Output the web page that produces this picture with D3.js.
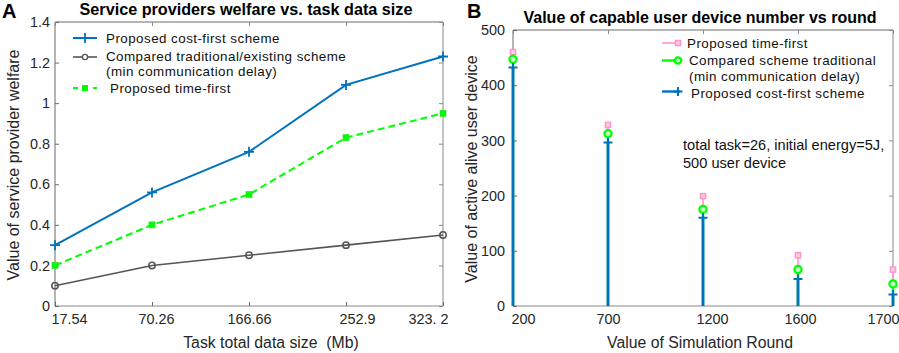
<!DOCTYPE html>
<html><head><meta charset="utf-8">
<script src="https://cdn.jsdelivr.net/npm/d3@7"></script>
<style>body{margin:0;background:#fff} svg{display:block;font-family:"Liberation Sans",Arial,sans-serif}</style>
</head><body><svg id="c" width="899" height="353"></svg>
<script>
// ---------- Panel A data ----------
const dataSizeLabels = ["17.54", "70.26", "166.66", "252.9", "323. 2"];
const costFirstWelfare = [0.30, 0.56, 0.76, 1.09, 1.23];
const traditionalWelfare = [0.10, 0.20, 0.25, 0.30, 0.35];
const timeFirstWelfare = [0.20, 0.40, 0.55, 0.83, 0.95];
const welfareTicks = [0, 0.2, 0.4, 0.6, 0.8, 1, 1.2, 1.4];
// ---------- Panel B data ----------
const roundLabels = ["200", "700", "1200", "1600", "1700"];
const timeFirstDevices = [460, 328, 199, 92, 66];
const traditionalDevices = [447, 312, 175, 66, 40];
const costFirstDevices = [432, 296, 160, 49, 21];
const deviceTicks = [0, 100, 200, 300, 400, 500];

// ---------- style constants ----------
const BLUE = "#0072BD", GRAY = "#555555", GREEN = "#00ff00", PINK = "#ff94c9";
const AXC = "#6a6a6a", AXC2 = "#8a8a8a", TXT = "#262626";
const labelShiftA = [14, 4, 0, 11, -15];
const labelShiftB = [10, 0, 9, 2, -10];
const LEGEND_FS = "13.4px", LEGEND_LS = "0.45px";

const svg = d3.select("#c");

function frame(g, x, y, x0, x1, y0, y1, yTicks, yFmt, shifts, yLabelGap) {
  g.append("line").attr("x1", x0).attr("x2", x1).attr("y1", y0).attr("y2", y0).attr("stroke", AXC2);
  g.append("line").attr("x1", x1).attr("x2", x1).attr("y1", y0).attr("y2", y1).attr("stroke", AXC2);
  g.append("line").attr("x1", x0).attr("x2", x0).attr("y1", y0).attr("y2", y1).attr("stroke", AXC);
  g.append("line").attr("x1", x0).attr("x2", x1).attr("y1", y1).attr("y2", y1).attr("stroke", AXC);
  const ax = g.append("g").attr("transform", `translate(${x0},0)`)
    .call(d3.axisLeft(y).tickValues(yTicks).tickFormat(yFmt).tickSizeInner(-4).tickSizeOuter(0).tickPadding(yLabelGap));
  ax.select(".domain").remove();
  ax.selectAll(".tick line").attr("stroke", AXC);
  ax.selectAll("text").attr("fill", TXT).style("font-size", "14.4px").style("font-family", "'Liberation Sans',Arial,sans-serif");
  const ar = g.append("g").attr("transform", `translate(${x1},0)`)
    .call(d3.axisRight(y).tickValues(yTicks).tickFormat("").tickSizeInner(-4).tickSizeOuter(0));
  ar.select(".domain").remove();
  ar.selectAll(".tick line").attr("stroke", AXC2);
  const ab = g.append("g").attr("transform", `translate(0,${y0})`)
    .call(d3.axisBottom(x).tickSizeInner(-4).tickSizeOuter(0).tickPadding(8));
  ab.select(".domain").remove();
  ab.selectAll(".tick line").attr("stroke", AXC);
  ab.selectAll("text").attr("fill", TXT).style("font-size", "14.4px")
    .style("font-family", "'Liberation Sans',Arial,sans-serif")
    .attr("dx", (d, i) => shifts[i]);
  const at = g.append("g").attr("transform", `translate(0,${y1})`)
    .call(d3.axisTop(x).tickFormat("").tickSizeInner(-4).tickSizeOuter(0));
  at.select(".domain").remove();
  at.selectAll(".tick line").attr("stroke", AXC2);
}

function plusPath(cx, cy, r) { return `M${cx - r},${cy}H${cx + r}M${cx},${cy - r}V${cy + r}`; }

// ================= Panel A =================
{
  const g = svg.append("g");
  const x = d3.scalePoint().domain(dataSizeLabels).range([55, 443]);
  const y = d3.scaleLinear().domain([0, 1.4]).range([306, 22]);
  frame(g, x, y, 55, 443, 306, 22, welfareTicks, d => String(d), labelShiftA, 5);

  const line = d3.line().x((d, i) => x(dataSizeLabels[i])).y(d => y(d));
  g.append("path").attr("d", line(traditionalWelfare)).attr("fill", "none").attr("stroke", GRAY).attr("stroke-width", 1.6);
  g.selectAll(".trad").data(traditionalWelfare).enter().append("circle")
    .attr("cx", (d, i) => x(dataSizeLabels[i])).attr("cy", d => y(d)).attr("r", 3.2)
    .attr("fill", "#fff").attr("fill-opacity", 0).attr("stroke", GRAY).attr("stroke-width", 1.5);
  g.append("path").attr("d", line(timeFirstWelfare)).attr("fill", "none").attr("stroke", GREEN)
    .attr("stroke-width", 2).attr("stroke-dasharray", "7,4");
  g.selectAll(".tf").data(timeFirstWelfare).enter().append("rect")
    .attr("x", (d, i) => x(dataSizeLabels[i]) - 3).attr("y", d => y(d) - 3).attr("width", 6).attr("height", 6)
    .attr("fill", GREEN).attr("stroke", "#22dd22").attr("stroke-width", 0.6);
  g.append("path").attr("d", line(costFirstWelfare)).attr("fill", "none").attr("stroke", BLUE).attr("stroke-width", 2);
  g.selectAll(".cf").data(costFirstWelfare).enter().append("path")
    .attr("d", (d, i) => plusPath(x(dataSizeLabels[i]), y(d), 5)).attr("stroke", BLUE).attr("stroke-width", 1.8);

  const lg = g.append("g").style("font-size", LEGEND_FS).style("letter-spacing", LEGEND_LS).attr("fill", "#111");
  lg.append("line").attr("x1", 73).attr("x2", 97).attr("y1", 38).attr("y2", 38).attr("stroke", BLUE).attr("stroke-width", 2);
  lg.append("path").attr("d", plusPath(85, 38, 5)).attr("stroke", BLUE).attr("stroke-width", 1.8);
  lg.append("text").attr("x", 106).attr("y", 38).attr("dy", "0.35em").text("Proposed cost-first scheme");
  lg.append("line").attr("x1", 73).attr("x2", 97).attr("y1", 57).attr("y2", 57).attr("stroke", GRAY).attr("stroke-width", 1.6);
  lg.append("circle").attr("cx", 85).attr("cy", 57).attr("r", 2.6).attr("fill", "#fff").attr("stroke", GRAY).attr("stroke-width", 1.3);
  lg.append("text").attr("x", 106).attr("y", 56.5).attr("dy", "0.35em").text("Compared traditional/existing scheme");
  lg.append("text").attr("x", 106).attr("y", 71.5).attr("dy", "0.35em").text("(min communication delay)");
  lg.append("line").attr("x1", 73).attr("x2", 97).attr("y1", 88).attr("y2", 88).attr("stroke", GREEN)
    .attr("stroke-width", 2).attr("stroke-dasharray", "5,15");
  lg.append("rect").attr("x", 82).attr("y", 85).attr("width", 6).attr("height", 6).attr("fill", GREEN);
  lg.append("text").attr("x", 110).attr("y", 88).attr("dy", "0.35em").text("Proposed time-first");

  g.append("text").attr("x", 246).attr("y", 14.5).attr("text-anchor", "middle").style("font-size", "16.2px")
    .style("font-weight", "bold").attr("fill", "#000").text("Service providers welfare vs. task data size");
  g.append("text").attr("x", 2).attr("y", 17.5).style("font-size", "20px").style("font-weight", "bold")
    .attr("fill", "#000").text("A");
  g.append("text").attr("x", 271).attr("y", 348).attr("text-anchor", "middle").style("font-size", "15.8px")
    .style("white-space", "pre").attr("fill", TXT).text("Task total data size  (Mb)");
  g.append("text").attr("transform", "translate(19,165) rotate(-90)").attr("text-anchor", "middle")
    .style("font-size", "16px").attr("fill", TXT).text("Value of service provider welfare");
}

// ================= Panel B =================
{
  const g = svg.append("g");
  const x = d3.scalePoint().domain(roundLabels).range([513, 893]);
  const y = d3.scaleLinear().domain([0, 500]).range([306, 30]);
  frame(g, x, y, 513, 893, 306, 30, deviceTicks, d => String(d), labelShiftB, 8);

  const stems = [
    { vals: timeFirstDevices, color: PINK, w: 1.6 },
    { vals: traditionalDevices, color: GREEN, w: 2.4 },
    { vals: costFirstDevices, color: BLUE, w: 2.8 }
  ];
  stems.forEach((s, k) => {
    g.selectAll(".stem" + k).data(s.vals).enter().append("line")
      .attr("x1", (d, i) => x(roundLabels[i])).attr("x2", (d, i) => x(roundLabels[i]))
      .attr("y1", y(0)).attr("y2", d => y(d)).attr("stroke", s.color).attr("stroke-width", s.w);
    const m = g.selectAll(".mk" + k).data(s.vals).enter();
    if (k === 0) {
      m.append("rect").attr("x", (d, i) => x(roundLabels[i]) - 2.6).attr("y", d => y(d) - 2.6)
        .attr("width", 5.2).attr("height", 5.2).attr("fill", "#ffc8e4").attr("stroke", PINK).attr("stroke-width", 1.4);
    } else if (k === 1) {
      m.append("circle").attr("cx", (d, i) => x(roundLabels[i])).attr("cy", d => y(d)).attr("r", 3.6)
        .attr("fill", "#bfffbf").attr("stroke", GREEN).attr("stroke-width", 2.2);
    } else {
      m.append("path").attr("d", (d, i) => plusPath(x(roundLabels[i]), y(d), 4.5))
        .attr("stroke", BLUE).attr("stroke-width", 2);
    }
  });

  const lg = g.append("g").style("font-size", LEGEND_FS).style("letter-spacing", LEGEND_LS).attr("fill", "#111");
  lg.append("line").attr("x1", 662).attr("x2", 680).attr("y1", 43).attr("y2", 43).attr("stroke", PINK).attr("stroke-width", 1.6);
  lg.append("rect").attr("x", 675.4).attr("y", 40.4).attr("width", 5.2).attr("height", 5.2).attr("fill", "#ffc8e4").attr("stroke", PINK).attr("stroke-width", 1.4);
  lg.append("text").attr("x", 687).attr("y", 43).attr("dy", "0.35em").text("Proposed time-first");
  lg.append("line").attr("x1", 662).attr("x2", 680).attr("y1", 60.5).attr("y2", 60.5).attr("stroke", GREEN).attr("stroke-width", 2.4);
  lg.append("circle").attr("cx", 678).attr("cy", 60.5).attr("r", 3.2).attr("fill", "#bfffbf").attr("stroke", GREEN).attr("stroke-width", 2.2);
  lg.append("text").attr("x", 689).attr("y", 60).attr("dy", "0.35em").text("Compared scheme traditional");
  lg.append("text").attr("x", 689).attr("y", 76.5).attr("dy", "0.35em").text("(min communication delay)");
  lg.append("line").attr("x1", 662).attr("x2", 680).attr("y1", 91.5).attr("y2", 91.5).attr("stroke", BLUE).attr("stroke-width", 2.4);
  lg.append("path").attr("d", plusPath(678, 91.5, 4.5)).attr("stroke", BLUE).attr("stroke-width", 2);
  lg.append("text").attr("x", 691).attr("y", 93).attr("dy", "0.35em").text("Proposed cost-first scheme");

  const an = g.append("g").style("font-size", "14.6px").attr("fill", "#111");
  an.append("text").attr("x", 683).attr("y", 145).attr("dy", "0.35em").text("total task=26, initial energy=5J,");
  an.append("text").attr("x", 683).attr("y", 163).attr("dy", "0.35em").text("500 user device");

  g.append("text").attr("x", 700).attr("y", 23).attr("text-anchor", "middle").style("font-size", "16px")
    .style("font-weight", "bold").attr("fill", "#000").text("Value of capable user device number vs round");
  g.append("text").attr("x", 467).attr("y", 18).style("font-size", "20px").style("font-weight", "bold")
    .attr("fill", "#000").text("B");
  g.append("text").attr("x", 700).attr("y", 348).attr("text-anchor", "middle").style("font-size", "15.8px")
    .attr("fill", TXT).text("Value of Simulation Round");
  g.append("text").attr("transform", "translate(477,169) rotate(-90)").attr("text-anchor", "middle")
    .style("font-size", "16px").attr("fill", TXT).text("Value of active alive user device");
}
</script></body></html>
